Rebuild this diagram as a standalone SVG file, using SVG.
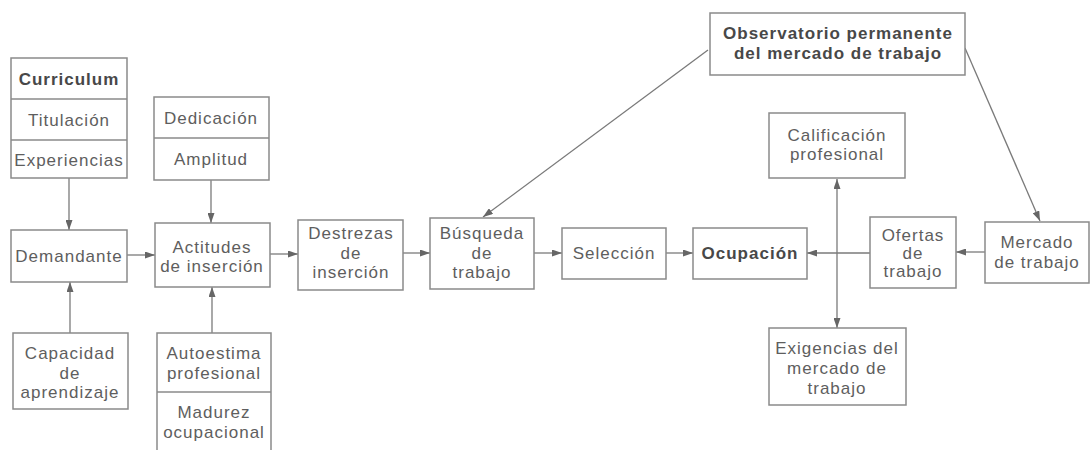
<svg xmlns="http://www.w3.org/2000/svg" width="1091" height="450" viewBox="0 0 1091 450">
<defs>
<marker id="ah" viewBox="0 0 10 7" refX="10" refY="3.5" markerWidth="10" markerHeight="7" markerUnits="userSpaceOnUse" orient="auto-start-reverse">
<path d="M0,0 L10,3.5 L0,7 z" fill="#666"/>
</marker>
<style>
.b{fill:#fff;stroke:#8a8a8a;stroke-width:1.5}
.d{stroke:#8a8a8a;stroke-width:1.5}
text{font-family:"Liberation Sans",Arial,sans-serif;font-size:17px;letter-spacing:1px;fill:#5e5e5e;text-anchor:middle}
.bo{font-weight:bold;fill:#484848}
.c{fill:none;stroke:#7a7a7a;stroke-width:1.3;marker-end:url(#ah)}
</style>
</defs>
<rect width="1091" height="450" fill="#fff"/>
<g id="connectors">
<line class="c" x1="69" y1="178" x2="69" y2="230"/>
<line class="c" x1="211" y1="180" x2="211" y2="223"/>
<line class="c" x1="70" y1="333" x2="70" y2="282"/>
<line class="c" x1="212" y1="333" x2="212" y2="287"/>
<line class="c" x1="127" y1="255" x2="155" y2="255"/>
<line class="c" x1="270" y1="254" x2="298" y2="254"/>
<line class="c" x1="403" y1="253" x2="430" y2="253"/>
<line class="c" x1="534" y1="253" x2="562" y2="253"/>
<line class="c" x1="666" y1="253" x2="693" y2="253"/>
<line class="c" x1="870" y1="253" x2="807" y2="253"/>
<line class="c" x1="985" y1="252" x2="956" y2="252"/>
<line class="c" x1="708" y1="50" x2="483" y2="217"/>
<line class="c" x1="965" y1="48" x2="1040" y2="221"/>
<line class="c" x1="837" y1="179" x2="837" y2="328" style="marker-start:url(#ah)"/>
</g>
<g id="curriculum">
<rect class="b" x="11" y="58" width="116" height="120"/>
<line class="d" x1="11" y1="99" x2="127" y2="99"/>
<line class="d" x1="11" y1="140" x2="127" y2="140"/>
<text class="bo" x="69" y="85">Curriculum</text>
<text x="69" y="126">Titulación</text>
<text x="69" y="166">Experiencias</text>
</g>
<g id="dedicacion">
<rect class="b" x="154" y="97" width="115" height="83"/>
<line class="d" x1="154" y1="138" x2="269" y2="138"/>
<text x="211" y="124">Dedicación</text>
<text x="211" y="165">Amplitud</text>
</g>
<g id="demandante">
<rect class="b" x="11" y="230" width="116" height="52"/>
<text x="69" y="262">Demandante</text>
</g>
<g id="actitudes">
<rect class="b" x="155" y="223" width="115" height="64"/>
<text x="212" y="253">Actitudes</text>
<text x="212" y="272">de inserción</text>
</g>
<g id="capacidad">
<rect class="b" x="13" y="333" width="115" height="76"/>
<text x="70" y="359">Capacidad</text>
<text x="70" y="379">de</text>
<text x="70" y="398">aprendizaje</text>
</g>
<g id="autoestima">
<rect class="b" x="157" y="333" width="114" height="125"/>
<line class="d" x1="157" y1="392" x2="271" y2="392"/>
<text x="214" y="359">Autoestima</text>
<text x="214" y="379">profesional</text>
<text x="214" y="418">Madurez</text>
<text x="214" y="438">ocupacional</text>
</g>
<g id="destrezas">
<rect class="b" x="298" y="220" width="105" height="70"/>
<text x="351" y="239">Destrezas</text>
<text x="351" y="259">de</text>
<text x="351" y="278">inserción</text>
</g>
<g id="busqueda">
<rect class="b" x="430" y="218" width="104" height="71"/>
<text x="482" y="239">Búsqueda</text>
<text x="482" y="259">de</text>
<text x="482" y="278">trabajo</text>
</g>
<g id="seleccion">
<rect class="b" x="562" y="228" width="104" height="51"/>
<text x="614" y="259">Selección</text>
</g>
<g id="ocupacion">
<rect class="b" x="693" y="228" width="114" height="51"/>
<text class="bo" x="750" y="259">Ocupación</text>
</g>
<g id="observatorio">
<rect class="b" x="710" y="13" width="255" height="62"/>
<text class="bo" x="838" y="39">Observatorio permanente</text>
<text class="bo" x="838" y="59">del mercado de trabajo</text>
</g>
<g id="calificacion">
<rect class="b" x="769" y="113" width="136" height="65"/>
<text x="837" y="141">Calificación</text>
<text x="837" y="160">profesional</text>
</g>
<g id="ofertas">
<rect class="b" x="870" y="217" width="86" height="71"/>
<text x="913" y="241">Ofertas</text>
<text x="913" y="259">de</text>
<text x="913" y="277">trabajo</text>
</g>
<g id="mercado">
<rect class="b" x="985" y="222" width="104" height="61"/>
<text x="1037" y="248">Mercado</text>
<text x="1037" y="268">de trabajo</text>
</g>
<g id="exigencias">
<rect class="b" x="769" y="328" width="137" height="77"/>
<text x="837" y="354">Exigencias del</text>
<text x="837" y="374">mercado de</text>
<text x="837" y="394">trabajo</text>
</g>
</svg>
